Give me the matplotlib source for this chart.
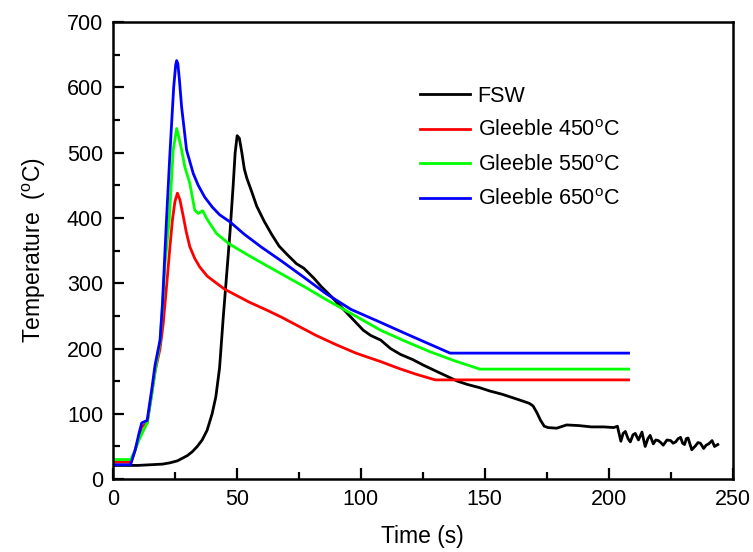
import matplotlib
matplotlib.use('Agg')
import matplotlib.pyplot as plt
from matplotlib.ticker import MultipleLocator

plt.rcParams['font.family'] = ['Liberation Sans', 'DejaVu Sans']
plt.rcParams['mathtext.default'] = 'regular'

# FSW thermal cycle
t_fsw = [0, 5, 10, 15, 20, 23, 26, 28, 30, 32, 34, 36, 38, 40, 41.5, 43, 44.5, 45.8, 47.2,
         48.5, 49.3, 50.1, 51, 52, 53, 54, 56, 58, 61, 64, 67, 70, 74, 77, 81, 84, 88,
         91, 94, 97, 101, 104, 108, 112, 116, 121, 125, 130, 134.5, 139, 143, 148, 152,
         157, 161, 165, 168, 169.5, 171, 172.5, 174, 175.5, 179, 183, 188, 193, 198, 202,
         203.5, 204.9, 205.8, 206.7, 207.8, 208.7, 209.8, 210.7, 212, 213.4, 214.7,
         215.8, 216.7, 218, 219, 220, 221, 222, 223.5, 225, 226, 227, 228, 229, 229.8,
         230.6, 231.3, 232, 233.5, 235, 236, 237, 238.3, 239.3, 240.3, 241.7, 242.7, 244]
T_fsw = [21, 21, 21, 22, 23, 25, 28, 32, 36, 42, 50, 60, 75, 100, 126, 170, 248, 310, 377,
         450, 500, 526, 522, 500, 475, 461, 440, 418, 395, 375, 357, 345, 330, 323, 308,
         295, 280, 268, 256, 244, 228, 220, 213, 200, 191, 183, 175, 166, 158, 150, 145,
         140, 135, 130, 125, 120, 116, 112, 102, 90, 81, 79, 78, 83, 82, 80, 80, 79,
         81, 58, 70, 73, 62, 57, 68, 70, 60, 72, 50, 62, 67, 54, 60, 59, 56, 52, 60,
         59, 55, 57, 62, 64, 55, 53, 62, 63, 45, 51, 56, 55, 47, 52, 54, 59, 50, 53]

# Gleeble simulations
t_450 = [0, 7.2, 9, 10.5, 11.6, 13.8, 15.6, 17, 19, 20.3, 21.5, 23, 24, 25, 26, 27, 28.4,
         29.5, 31, 33, 35, 38, 41.8, 45, 48.5, 55, 62, 68, 75, 82, 90, 98, 108, 115, 122,
         130, 208]
T_450 = [26, 26, 45, 65, 80, 86, 130, 165, 200, 239, 290, 356, 397, 425, 438, 428, 402,
         380, 356, 338, 325, 311, 300, 291, 284, 271, 259, 248, 234, 220, 206, 193, 180,
         170, 161, 152, 152]

t_550 = [0, 7.2, 9, 10.5, 12, 13.8, 15.6, 17, 19, 20, 21, 22.7, 24.3, 25.7, 26.5, 27.7, 29,
         31, 33, 34.4, 36.2, 38, 41.8, 47, 55, 62, 70, 78, 86, 95, 108, 118, 128, 138,
         148, 208]
T_550 = [30, 30, 45, 60, 72, 86, 128, 165, 210, 265, 330, 397, 504, 537, 525, 504, 478,
         453, 412, 407, 411, 398, 376, 360, 342, 327, 310, 293, 275, 256, 228, 211, 195,
         181, 168.5, 168.5]

t_650 = [0, 7.1, 9, 10.5, 11.6, 13.8, 15.6, 17, 19, 20, 21, 21.6, 23, 24.5, 25.3, 25.7, 26.2,
         26.8, 27.7, 29.7, 32.4, 34.4, 37, 40, 43, 47.2, 53, 60, 68, 76, 86, 96, 108, 118,
         127, 136, 208]
T_650 = [22, 22, 45, 70, 86, 90, 136, 175, 213, 270, 350, 397, 500, 600, 634, 641, 636,
         612, 570, 504, 468, 450, 432, 417, 405, 394, 375, 355, 334, 312, 284, 260, 240,
         223, 208, 193, 193]

fig = plt.figure(figsize=(7.53, 5.52), dpi=100)
ax = fig.add_axes([0.150, 0.132, 0.823, 0.828])

lw = 2.0
ax.plot(t_fsw, T_fsw, color='black', lw=lw, label='FSW')
ax.plot(t_450, T_450, color='#ff0000', lw=lw, label='Gleeble 450$^o$C')
ax.plot(t_550, T_550, color='#00ff00', lw=lw, label='Gleeble 550$^o$C')
ax.plot(t_650, T_650, color='#0000ff', lw=lw, label='Gleeble 650$^o$C')

ax.set_xlim(0, 250)
ax.set_ylim(0, 700)
ax.xaxis.set_major_locator(MultipleLocator(50))
ax.xaxis.set_minor_locator(MultipleLocator(25))
ax.yaxis.set_major_locator(MultipleLocator(100))
ax.yaxis.set_minor_locator(MultipleLocator(50))
ax.tick_params(which='both', direction='in', top=False, right=False, width=1.6,
               labelsize=15.5, pad=7)
ax.tick_params(which='major', length=8)
ax.tick_params(which='minor', length=5)
for s in ax.spines.values():
    s.set_linewidth(1.8)

ax.set_xlabel('Time (s)', fontsize=16.5, labelpad=11)
ax.set_ylabel('Temperature  ($^o$C)', fontsize=16.5, labelpad=14)

ax.legend(loc='upper left', bbox_to_anchor=(0.465, 0.903), frameon=False, fontsize=15.5,
          handlelength=2.3, handletextpad=0.35, labelspacing=0.63)

fig.savefig('out.png', dpi=100)
